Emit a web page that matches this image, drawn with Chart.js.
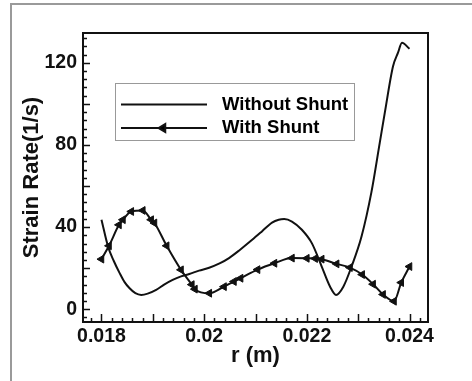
<!DOCTYPE html>
<html>
<head>
<meta charset="utf-8">
<script src="https://cdn.jsdelivr.net/npm/chart.js@4.4.0/dist/chart.umd.min.js"></script>
<style>
  html, body { margin: 0; padding: 0; background: #fff; }
  canvas { display: block; }
</style>
</head>
<body>
<canvas id="chart" width="472" height="381"></canvas>
<script>
// values: r in metres, strain rate in 1/s
const rWithout = [0.01800, 0.018128, 0.01824, 0.018354, 0.01845, 0.018548, 0.01866, 0.018774, 0.0189,
  0.019065, 0.01922, 0.019386, 0.01955, 0.01971, 0.0199, 0.020097, 0.0203, 0.020484, 0.0207,
  0.020935, 0.02113, 0.021322, 0.021452, 0.02156, 0.02171, 0.021903, 0.022097, 0.02229, 0.022453,
  0.022569, 0.022711, 0.022871, 0.023065, 0.023258, 0.02342, 0.023518, 0.023679, 0.023776, 0.023853, 0.024];
const strainWithout = [43.6, 30.5, 23.5, 17.6, 13.2, 10.2, 7.8, 7.0, 7.6,
  9.4, 12.0, 14.3, 16.0, 17.2, 18.8, 20.2, 22.3, 24.9, 29.0,
  33.8, 38.0, 42.2, 43.6, 43.9, 42.7, 38.7, 32.2, 20.8, 11.0,
  7.0, 11.0, 20.8, 35.4, 57.0, 81.0, 95.6, 118.3, 124.9, 129.8, 126.8];

const rWith = [0.018, 0.018147, 0.018341, 0.018418, 0.018581, 0.018805, 0.018968, 0.019032, 0.01927,
  0.019549, 0.01976, 0.01982, 0.0201, 0.020387, 0.02058, 0.02071, 0.02104, 0.02137, 0.02171,
  0.022, 0.022162, 0.02229, 0.02258, 0.02284, 0.023078, 0.023291, 0.023485, 0.023698, 0.023839, 0.024];
const strainWith = [24.4, 30.9, 41.1, 43.6, 47.6, 48.1, 43.6, 42.0, 30.9,
  19.2, 12.0, 9.8, 7.8, 11.0, 13.5, 15.1, 19.3, 22.4, 24.9,
  24.8, 24.7, 24.4, 22.1, 20.3, 16.9, 12.2, 7.2, 3.9, 13.0, 20.8];

const seriesNames = ['Without Shunt', 'With Shunt'];
const xTickLabels = [0.018, 0.02, 0.022, 0.024];
const yTickLabels = [0, 40, 80, 120];

const toPoints = (xs, ys) => xs.map((x, i) => ({ x: x, y: ys[i] }));

// tecplot-ish frame, inward ticks and boxed legend
const framePlugin = {
  id: 'frame',
  beforeDraw(chart) {
    const ctx = chart.ctx;
    ctx.save();
    ctx.strokeStyle = '#9a9a9a';
    ctx.lineWidth = 2;
    ctx.beginPath();
    ctx.moveTo(11, 381);
    ctx.lineTo(11, 4);
    ctx.lineTo(472, 4);
    ctx.stroke();
    ctx.restore();
  },
  afterDraw(chart) {
    const ctx = chart.ctx;
    const a = chart.chartArea;
    const xs = chart.scales.x, ys = chart.scales.y;
    ctx.save();
    ctx.strokeStyle = '#111';
    ctx.lineWidth = 2;
    ctx.strokeRect(a.left, a.top, a.right - a.left, a.bottom - a.top);

    ctx.lineWidth = 1.5;
    ctx.beginPath();
    for (let i = 0; i <= 32; i++) {
      const v = 0.0178 + i * 0.0002;
      const px = Math.round(xs.getPixelForValue(v)) + 0.5;
      const len = (i - 1) % 5 === 0 ? 8 : 4;
      ctx.moveTo(px, a.bottom);
      ctx.lineTo(px, a.bottom - len);
    }
    for (let i = 0; i <= 34; i++) {
      const v = -4 + i * 4;
      const py = Math.round(ys.getPixelForValue(v)) + 0.5;
      const len = v % 20 === 0 ? 7 : 4;
      ctx.moveTo(a.left, py);
      ctx.lineTo(a.left + len, py);
    }
    ctx.stroke();

    // legend
    ctx.strokeStyle = '#999';
    ctx.lineWidth = 1;
    ctx.strokeRect(115.5, 83.5, 239, 57);
    ctx.strokeStyle = '#111';
    ctx.fillStyle = '#111';
    ctx.lineWidth = 2;
    const rows = [104.5, 128];
    ctx.font = 'bold 18.5px "Liberation Sans", Arial, sans-serif';
    ctx.textBaseline = 'middle';
    chart.data.datasets.forEach((ds, i) => {
      ctx.beginPath();
      ctx.moveTo(121, rows[i]);
      ctx.lineTo(207, rows[i]);
      ctx.stroke();
      if (ds.pointRadius > 0) {
        Chart.helpers.drawPoint(ctx, { pointStyle: 'triangle', rotation: -90, radius: 4.5, borderWidth: 1 }, 163, rows[i]);
      }
      ctx.fillStyle = '#000';
      ctx.fillText(ds.label, 222, rows[i]);
    });
    ctx.restore();
  }
};

const font = 'Liberation Sans';

new Chart(document.getElementById('chart'), {
  type: 'line',
  data: {
    datasets: [{
      label: seriesNames[0],
      data: toPoints(rWithout, strainWithout),
      borderColor: '#111',
      borderWidth: 2,
      pointRadius: 0,
      cubicInterpolationMode: 'monotone'
    }, {
      label: seriesNames[1],
      data: toPoints(rWith, strainWith),
      borderColor: '#111',
      backgroundColor: '#111',
      borderWidth: 2,
      pointRadius: 4.5,
      pointStyle: 'triangle',
      rotation: -90,
      pointBorderWidth: 1,
      cubicInterpolationMode: 'monotone'
    }]
  },
  options: {
    responsive: false,
    animation: false,
    devicePixelRatio: 1,
    layout: { padding: { top: 33, right: 44, left: 0, bottom: 0 } },
    plugins: { legend: { display: false }, tooltip: { enabled: false } },
    scales: {
      x: {
        type: 'linear',
        min: 0.01764,
        max: 0.02436,
        grid: { display: false, drawTicks: false },
        border: { display: false },
        afterBuildTicks: s => { s.ticks = xTickLabels.map(v => ({ value: v })); },
        afterFit: s => { s.height = 59; },
        ticks: {
          padding: 3,
          color: '#111',
          font: { family: font, size: 19.5, weight: 'bold' },
          callback: v => String(v)
        },
        title: {
          display: true,
          text: 'r (m)',
          color: '#111',
          padding: { top: 0, bottom: 12 },
          font: { family: font, size: 22, weight: 'bold' }
        }
      },
      y: {
        min: -6.2,
        max: 134.5,
        grid: { display: false, drawTicks: false },
        border: { display: false },
        afterBuildTicks: s => { s.ticks = yTickLabels.map(v => ({ value: v })); },
        afterFit: s => { s.width = 83; },
        ticks: {
          padding: 6,
          color: '#111',
          font: { family: font, size: 19.5, weight: 'bold' },
          callback: v => String(v)
        },
        title: {
          display: true,
          text: 'Strain Rate(1/s)',
          color: '#111',
          padding: { top: 19, bottom: 0 },
          font: { family: font, size: 22, weight: 'bold' }
        }
      }
    }
  },
  plugins: [framePlugin]
});
</script>
</body>
</html>
